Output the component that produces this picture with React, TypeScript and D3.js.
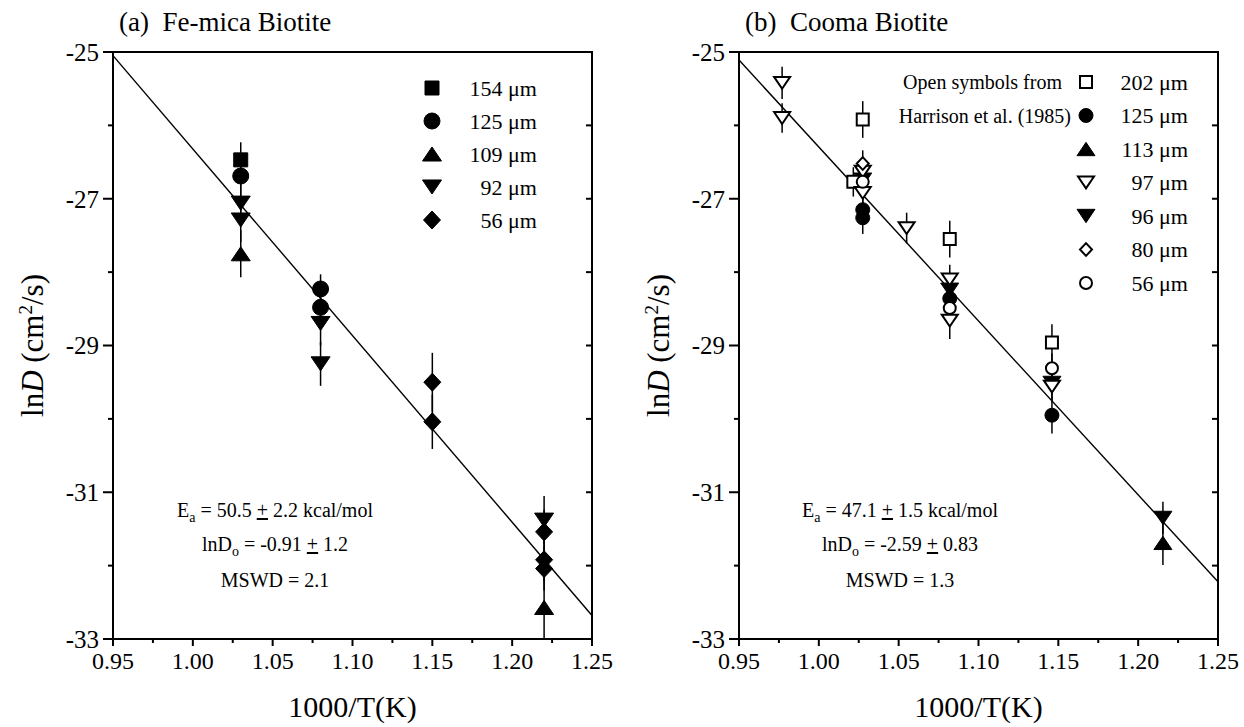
import React from 'react';
import * as d3 from 'd3';

type Pt = [number, number, number]; // 1000/T, lnD, error
type Shape = 'square' | 'circle' | 'up' | 'down' | 'diamond';

interface Series {
  label: string;
  shape: Shape;
  open: boolean;
  size: number;
  pts: Pt[];
}

const FONT = '"Liberation Serif", "Times New Roman", Times, serif';

const xTicks = [0.95, 1.0, 1.05, 1.1, 1.15, 1.2, 1.25];
const xMinor = [0.975, 1.025, 1.075, 1.125, 1.175, 1.225];
const yTicks = [-25, -27, -29, -31, -33];
const yMinor = [-26, -28, -30, -32];
const yAll = [-32, -31, -30, -29, -28, -27, -26];

// (a) Fe-mica biotite
const fe154: Pt[] = [[1.03, -26.47, 0.24]];
const fe125: Pt[] = [[1.03, -26.69, 0.3], [1.08, -28.23, 0.2], [1.08, -28.48, 0.3]];
const fe109: Pt[] = [[1.03, -27.75, 0.32], [1.22, -32.57, 0.45]];
const fe92: Pt[] = [[1.03, -27.06, 0.3], [1.03, -27.29, 0.3], [1.08, -28.7, 0.3], [1.08, -29.25, 0.3], [1.22, -31.38, 0.33]];
const fe56: Pt[] = [[1.15, -29.5, 0.4], [1.15, -30.04, 0.37], [1.22, -31.54, 0.3], [1.22, -31.92, 0.3], [1.22, -32.04, 0.3]];
const fitA: [number, number][] = [[0.95, -25.05], [1.25, -32.68]];

// (b) Cooma biotite
const co202: Pt[] = [[1.0275, -25.92, 0.25], [1.0216, -26.77, 0.2], [1.082, -27.55, 0.25], [1.146, -28.96, 0.25]];
const co125: Pt[] = [[1.0275, -27.15, 0.2], [1.0275, -27.26, 0.22], [1.082, -28.36, 0.2], [1.146, -29.95, 0.25]];
const co113: Pt[] = [[1.2155, -31.69, 0.3]];
const co97: Pt[] = [[0.977, -25.42, 0.22], [0.977, -25.9, 0.2], [1.0275, -26.63, 0.2], [1.0275, -26.92, 0.2], [1.055, -27.4, 0.21], [1.082, -28.1, 0.2], [1.082, -28.66, 0.25], [1.146, -29.56, 0.2]];
const co96: Pt[] = [[1.0275, -26.74, 0.2], [1.082, -28.24, 0.2], [1.146, -29.51, 0.2], [1.2155, -31.35, 0.22]];
const co80: Pt[] = [[1.0275, -26.52, 0.18]];
const co56: Pt[] = [[1.0275, -26.77, 0.2], [1.082, -28.49, 0.2], [1.146, -29.31, 0.2]];
const fitB: [number, number][] = [[0.95, -25.11], [1.25, -32.22]];

const seriesA: Series[] = [
  { label: '154 μm', shape: 'square', open: false, size: 14, pts: fe154 },
  { label: '125 μm', shape: 'circle', open: false, size: 16, pts: fe125 },
  { label: '109 μm', shape: 'up', open: false, size: 19, pts: fe109 },
  { label: '92 μm', shape: 'down', open: false, size: 19, pts: fe92 },
  { label: '56 μm', shape: 'diamond', open: false, size: 17, pts: fe56 },
];

const seriesB: Series[] = [
  { label: '202 μm', shape: 'square', open: true, size: 12, pts: co202 },
  { label: '125 μm', shape: 'circle', open: false, size: 14, pts: co125 },
  { label: '113 μm', shape: 'up', open: false, size: 18, pts: co113 },
  { label: '97 μm', shape: 'down', open: true, size: 16, pts: co97 },
  { label: '96 μm', shape: 'down', open: false, size: 18, pts: co96 },
  { label: '80 μm', shape: 'diamond', open: true, size: 12, pts: co80 },
  { label: '56 μm', shape: 'circle', open: true, size: 12, pts: co56 },
];
// drawing order: filled first, open on top
const orderB = [1, 4, 2, 0, 3, 5, 6];
const orderA = [4, 2, 3, 1, 0];

const statsA = ['50.5', '2.2', '-0.91', '1.2', '2.1'];
const statsB = ['47.1', '1.5', '-2.59', '0.83', '1.3'];

function markerPath(shape: Shape, s: number) {
  const p = d3.path();
  const h = s / 2;
  if (shape === 'square') {
    p.rect(-h, -h, s, s);
  } else if (shape === 'circle') {
    p.moveTo(h, 0);
    p.arc(0, 0, h, 0, 2 * Math.PI);
    p.closePath();
  } else if (shape === 'up') {
    const t = s * 0.37;
    p.moveTo(0, -t); p.lineTo(h, t); p.lineTo(-h, t); p.closePath();
  } else if (shape === 'down') {
    const t = s * 0.37;
    p.moveTo(0, t); p.lineTo(h, -t); p.lineTo(-h, -t); p.closePath();
  } else {
    const t = s * 0.53;
    p.moveTo(0, -t); p.lineTo(h, 0); p.lineTo(0, t); p.lineTo(-h, 0); p.closePath();
  }
  return p.toString();
}

function Marker({ s, x, y }: { s: Series; x: number; y: number }) {
  return (
    <path
      d={markerPath(s.shape, s.size)}
      transform={`translate(${x},${y})`}
      fill={s.open ? '#fff' : '#000'}
      stroke="#000"
      strokeWidth={s.open ? 2 : 1}
    />
  );
}

// underlined plus, as printed in the figure
const PM = () => <tspan textDecoration="underline">+</tspan>;

interface PanelProps {
  left: number;
  right: number;
  top: number;
  bottom: number;
  title: string;
  series: Series[];
  order: number[];
  fit: [number, number][];
  stats: string[];
  legendX: number;
  legendLabelX: number;
  legendY: number;
  legendStep: number;
  statsX: number;
  note?: boolean;
}

function Panel(p: PanelProps) {
  const x = d3.scaleLinear().domain([0.95, 1.25]).range([p.left, p.right]);
  const y = d3.scaleLinear().domain([-33, -25]).range([p.bottom, p.top]);
  const line = d3.line<[number, number]>().x(d => x(d[0])).y(d => y(d[1]));
  const midY = (p.top + p.bottom) / 2;
  const midX = (p.left + p.right) / 2;
  const [ea, eaErr, d0, d0Err, mswd] = p.stats;

  return (
    <g fontFamily={FONT} fill="#000">
      <text x={p.left + 6} y={31} fontSize={27}>{p.title}</text>

      {/* frame */}
      <rect x={p.left} y={p.top} width={p.right - p.left} height={p.bottom - p.top}
        fill="none" stroke="#000" strokeWidth={2} />

      {/* left axis */}
      {yTicks.map(t => (
        <g key={'yl' + t}>
          <line x1={p.left - 10} x2={p.left} y1={y(t)} y2={y(t)} stroke="#000" strokeWidth={2} />
          <text x={p.left - 14} y={y(t)} dy="0.35em" textAnchor="end" fontSize={25}>{t}</text>
        </g>
      ))}
      {yMinor.map(t => (
        <line key={'ym' + t} x1={p.left - 5} x2={p.left} y1={y(t)} y2={y(t)} stroke="#000" strokeWidth={2} />
      ))}
      {/* right axis, inward ticks */}
      {yAll.map(t => (
        <line key={'yr' + t} x1={p.right - 6} x2={p.right} y1={y(t)} y2={y(t)} stroke="#000" strokeWidth={2} />
      ))}

      {/* bottom axis */}
      {xTicks.map(t => (
        <g key={'x' + t}>
          <line x1={x(t)} x2={x(t)} y1={p.bottom} y2={p.bottom + 7} stroke="#000" strokeWidth={2} />
          <text x={x(t)} y={p.bottom + 30} textAnchor="middle" fontSize={24}>{d3.format('.2f')(t)}</text>
        </g>
      ))}
      {xMinor.map(t => (
        <line key={'xm' + t} x1={x(t)} x2={x(t)} y1={p.bottom} y2={p.bottom + 4} stroke="#000" strokeWidth={2} />
      ))}

      {/* axis titles */}
      <text x={midX} y={p.bottom + 78} textAnchor="middle" fontSize={30}>1000/T(K)</text>
      <text transform={`translate(${p.left - 70},${midY}) rotate(-90)`} textAnchor="middle" fontSize={31}>
        ln<tspan fontStyle="italic">D</tspan> (cm<tspan dy={-11} fontSize={19}>2</tspan><tspan dy={11}>/s)</tspan>
      </text>

      {/* fit line */}
      <path d={line(p.fit) || ''} fill="none" stroke="#000" strokeWidth={1.4} />

      {/* error bars */}
      {p.series.map((s, si) => s.pts.map((d, i) => (
        <line key={`e${si}-${i}`} x1={x(d[0])} x2={x(d[0])}
          y1={y(Math.min(-25, d[1] + d[2]))} y2={y(Math.max(-33, d[1] - d[2]))}
          stroke="#000" strokeWidth={1.5} />
      )))}

      {/* markers */}
      {p.order.map(si => p.series[si].pts.map((d, i) => (
        <Marker key={`m${si}-${i}`} s={p.series[si]} x={x(d[0])} y={y(d[1])} />
      )))}

      {/* legend */}
      {p.series.map((s, i) => (
        <g key={'lg' + i}>
          <Marker s={s} x={p.legendX} y={p.legendY + i * p.legendStep} />
          <text x={p.legendLabelX} y={p.legendY + i * p.legendStep} dy="0.35em" textAnchor="end" fontSize={22}>{s.label}</text>
        </g>
      ))}
      {p.note && (
        <g fontSize={20} textAnchor="end">
          <text x={p.legendX - 24} y={p.legendY} dy="0.35em">Open symbols from</text>
          <text x={p.legendX - 15} y={p.legendY + p.legendStep} dy="0.35em">Harrison et al. (1985)</text>
        </g>
      )}

      {/* fit statistics */}
      <g fontSize={20} textAnchor="middle">
        <text x={p.statsX} y={517}>E<tspan dy={5} fontSize={14}>a</tspan><tspan dy={-5}>{` = ${ea} `}</tspan><PM /><tspan>{` ${eaErr} kcal/mol`}</tspan></text>
        <text x={p.statsX} y={551}>lnD<tspan dy={5} fontSize={14}>o</tspan><tspan dy={-5}>{` = ${d0} `}</tspan><PM /><tspan>{` ${d0Err}`}</tspan></text>
        <text x={p.statsX} y={587}>{`MSWD = ${mswd}`}</text>
      </g>
    </g>
  );
}

export default function App() {
  return (
    <svg width={1244} height={727} style={{ position: 'absolute', left: 0, top: 0, background: '#fff' }}>
      <rect width={1244} height={727} fill="#fff" />
      <Panel left={113} right={592} top={52} bottom={639}
        title={'(a)\u00a0\u00a0Fe-mica Biotite'}
        series={seriesA} order={orderA} fit={fitA} stats={statsA}
        legendX={432} legendLabelX={537} legendY={88} legendStep={33}
        statsX={275} />
      <Panel left={739} right={1218} top={52} bottom={639}
        title={'(b)\u00a0\u00a0Cooma Biotite'}
        series={seriesB} order={orderB} fit={fitB} stats={statsB}
        legendX={1086} legendLabelX={1188} legendY={82} legendStep={33.5}
        statsX={900} note />
    </svg>
  );
}
